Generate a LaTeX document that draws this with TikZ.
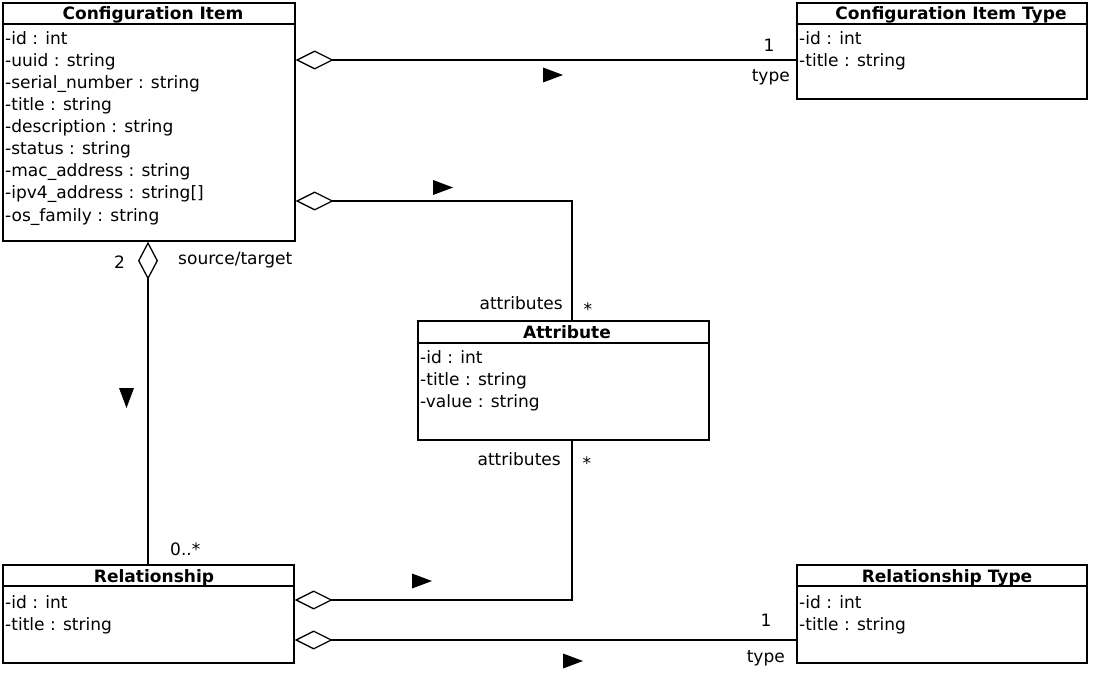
\documentclass[tikz,border=0pt]{standalone}
\usepackage{fontspec}
\setmainfont{DejaVu Sans}
\usetikzlibrary{arrows.meta}
\begin{document}
\begin{tikzpicture}[x=1bp,y=-1bp,
  every node/.style={inner sep=0pt, font=\fontsize{17.1}{20}\selectfont},
  classbox/.style={draw, line width=1.4bp, rectangle, fill=white},
  sepline/.style={line width=1.3bp},
  ctitle/.style={anchor=base, font=\fontsize{17.1}{20}\selectfont\bfseries},
  attr/.style={anchor=base west},
  lbl/.style={anchor=base},
  lble/.style={anchor=base east},
  lblw/.style={anchor=base west},
  agg/.style={line width=1.3bp, {Diamond[open, length=38bp, width=19bp, line width=1.3bp]}-},
  aggv/.style={line width=1.3bp, {Diamond[open, length=38bp, width=20bp, line width=1.3bp]}-},
  nav/.style={fill=black},
]
\useasboundingbox[fill=white] (0,0) rectangle (1093,673);

% ---------- Configuration Item ----------
\node[classbox, minimum width=292bp, minimum height=238bp] (ci) at (149,122) {};
\draw[sepline] (ci.west |- 0,24) -- (ci.east |- 0,24);
\node[ctitle] (citl) at (153,20) {Configuration Item};
\node[attr] (ci1) at (5,45)  {-id : int};
\node[attr] (ci2) at (5,67)  {-uuid : string};
\node[attr] (ci3) at (5,89)  {-serial\_number : string};
\node[attr] (ci4) at (5,111) {-title : string};
\node[attr] (ci5) at (5,133) {-description : string};
\node[attr] (ci6) at (5,155) {-status : string};
\node[attr] (ci7) at (5,177) {-mac\_address : string};
\node[attr] (ci8) at (5,199) {-ipv4\_address : string[]};
\node[attr] (ci9) at (5,221) {-os\_family : string};

% ---------- Configuration Item Type ----------
\node[classbox, minimum width=290bp, minimum height=96bp] (cit) at (942,51) {};
\draw[sepline] (cit.west |- 0,24) -- (cit.east |- 0,24);
\node[ctitle] (cittl) at (951,20) {Configuration Item Type};
\node[attr] (cit1) at (799,45) {-id : int};
\node[attr] (cit2) at (799,67) {-title : string};

% ---------- Attribute ----------
\node[classbox, minimum width=291bp, minimum height=119bp] (at) at (563.5,380.5) {};
\draw[sepline] (at.west |- 0,343) -- (at.east |- 0,343);
\node[ctitle] (attl) at (567,338) {Attribute};
\node[attr] (at1) at (420,363) {-id : int};
\node[attr] (at2) at (420,385) {-title : string};
\node[attr] (at3) at (420,407) {-value : string};

% ---------- Relationship ----------
\node[classbox, minimum width=291bp, minimum height=98bp] (rel) at (148.5,614) {};
\draw[sepline] (rel.west |- 0,586) -- (rel.east |- 0,586);
\node[ctitle] (reltl) at (154,582) {Relationship};
\node[attr] (rel1) at (5,608) {-id : int};
\node[attr] (rel2) at (5,630) {-title : string};

% ---------- Relationship Type ----------
\node[classbox, minimum width=290bp, minimum height=98bp] (rt) at (942,614) {};
\draw[sepline] (rt.west |- 0,586) -- (rt.east |- 0,586);
\node[ctitle] (rttl) at (947,582) {Relationship Type};
\node[attr] (rt1) at (799,608) {-id : int};
\node[attr] (rt2) at (799,630) {-title : string};

% ---------- Connectors ----------
\coordinate (ca) at (572,201);
\coordinate (cb) at (572,600);
\draw[agg] (ci.east |- 0,60) -- (cit.west |- 0,60);
\draw[agg] (ci.east |- 0,201) -- (ca) -- (ca |- at.north);
\draw[aggv] (ci.south -| 148,0) -- (rel.north -| 148,0);
\draw[agg] (rel.east |- 0,600) -- (cb) -- (cb |- at.south);
\draw[agg] (rel.east |- 0,640) -- (rt.west |- 0,640);

% ---------- Navigation triangles ----------
\fill[nav] (543,67.5) -- (563,75) -- (543,82.5) -- cycle;
\fill[nav] (433,180) -- (453,187.5) -- (433,195) -- cycle;
\fill[nav] (119,388) -- (134,388) -- (126.5,408) -- cycle;
\fill[nav] (412,573.5) -- (432,581) -- (412,588.5) -- cycle;
\fill[nav] (563,653.5) -- (583,661) -- (563,668.5) -- cycle;

% ---------- Labels ----------
\node[lbl]  (l1)  at (769,52)  {1};
\node[lble] (l2)  at (790,82)  {type};
\node[lble] (l3)  at (563,309) {attributes};
\node[lbl]  (l4)  at (588,315) {*};
\node[lble] (l5)  at (561,465) {attributes};
\node[lbl]  (l6)  at (587,469) {*};
\node[lbl]  (l7)  at (119.5,268) {2};
\node[lblw] (l8)  at (178,264) {source/target};
\node[lblw] (l9)  at (170,555) {0..*};
\node[lbl]  (l10) at (766,626) {1};
\node[lble] (l11) at (785,662) {type};
\end{tikzpicture}
\end{document}
